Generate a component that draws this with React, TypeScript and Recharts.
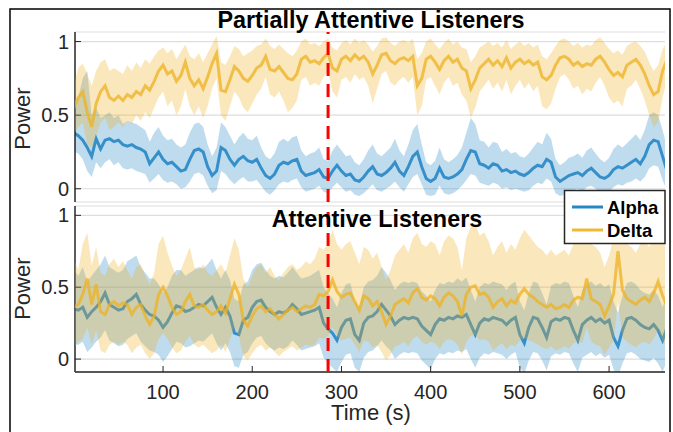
import React from 'react';
import { ComposedChart, Area, Line, XAxis, YAxis, CartesianGrid, ReferenceLine } from 'recharts';

// sampling step (seconds) of the series below, starting at t = 0
const STEP = 5;
const X_TICKS = [100, 200, 300, 400, 500, 600];
const Y_TICKS = [0, 0.5, 1];
const MARKER_TIME = 285;
const PANEL_TITLES = ['Partially Attentive Listeners', 'Attentive Listeners'];
const SERIES_NAMES = ['Alpha', 'Delta'];

// ---------- Partially attentive listeners ----------
const TOP_DELTA_MEAN = [
  0.55, 0.62, 0.66, 0.52, 0.42, 0.58, 0.66, 0.70, 0.62, 0.60,
  0.63, 0.60, 0.64, 0.62, 0.66, 0.64, 0.70, 0.67, 0.73, 0.80,
  0.84, 0.78, 0.80, 0.73, 0.77, 0.86, 0.75, 0.70, 0.74, 0.68,
  0.76, 0.85, 0.92, 0.67, 0.66, 0.74, 0.83, 0.80, 0.75, 0.73,
  0.77, 0.82, 0.84, 0.90, 0.81, 0.80, 0.83, 0.79, 0.75, 0.74,
  0.78, 0.88, 0.90, 0.86, 0.87, 0.85, 0.89, 0.92, 0.82, 0.80,
  0.88, 0.90, 0.87, 0.91, 0.88, 0.90, 0.86, 0.78, 0.84, 0.91,
  0.92, 0.87, 0.85, 0.88, 0.89, 0.87, 0.90, 0.70, 0.75, 0.88,
  0.90, 0.86, 0.81, 0.87, 0.90, 0.86, 0.88, 0.82, 0.80, 0.68,
  0.74, 0.82, 0.85, 0.88, 0.84, 0.87, 0.83, 0.89, 0.82, 0.86,
  0.88, 0.85, 0.87, 0.84, 0.86, 0.76, 0.74, 0.77, 0.84, 0.89,
  0.90, 0.88, 0.84, 0.86, 0.83, 0.85, 0.84, 0.88, 0.90, 0.86,
  0.81, 0.77, 0.79, 0.76, 0.84, 0.86, 0.88, 0.84, 0.78, 0.70,
  0.64, 0.66, 0.80, 0.88,
];
const TOP_DELTA_HI = [
  0.70, 0.82, 0.85, 0.78, 0.70, 0.80, 0.86, 0.88, 0.80, 0.82,
  0.80, 0.78, 0.84, 0.80, 0.86, 0.82, 0.88, 0.85, 0.90, 0.94,
  0.96, 0.92, 0.95, 0.88, 0.93, 0.98, 0.90, 0.88, 0.92, 0.86,
  0.92, 0.98, 1.04, 0.86, 0.84, 0.90, 0.97, 0.95, 0.90, 0.92,
  0.94, 0.97, 0.98, 1.02, 0.97, 0.95, 0.98, 0.95, 0.92, 0.90,
  0.94, 1.00, 1.02, 0.98, 0.99, 0.97, 1.00, 1.02, 0.96, 0.94,
  0.99, 1.01, 0.98, 1.02, 0.99, 1.01, 0.98, 0.93, 0.97, 1.02,
  1.03, 0.99, 0.97, 1.00, 1.01, 0.99, 1.02, 0.88, 0.92, 1.00,
  1.02, 0.98, 0.95, 0.99, 1.02, 0.98, 1.00, 0.96, 0.95, 0.86,
  0.90, 0.96, 0.98, 1.00, 0.97, 0.99, 0.96, 1.01, 0.95, 0.98,
  1.00, 0.97, 0.99, 0.96, 0.98, 0.90, 0.88, 0.92, 0.97, 1.01,
  1.02, 1.00, 0.97, 0.99, 0.96, 0.98, 0.97, 1.01, 1.03, 0.99,
  0.95, 0.92, 0.94, 0.91, 0.97, 0.99, 1.00, 0.97, 0.93, 0.86,
  0.80, 0.84, 0.95, 1.00,
];
const TOP_DELTA_LO = [
  0.38, 0.42, 0.45, 0.30, 0.28, 0.36, 0.45, 0.48, 0.40, 0.42,
  0.45, 0.42, 0.46, 0.44, 0.50, 0.46, 0.52, 0.48, 0.55, 0.62,
  0.66, 0.56, 0.60, 0.50, 0.56, 0.68, 0.56, 0.50, 0.56, 0.48,
  0.56, 0.68, 0.75, 0.50, 0.46, 0.56, 0.66, 0.62, 0.55, 0.52,
  0.58, 0.64, 0.68, 0.76, 0.64, 0.62, 0.66, 0.60, 0.52, 0.55,
  0.60, 0.74, 0.76, 0.70, 0.72, 0.70, 0.76, 0.80, 0.66, 0.62,
  0.74, 0.76, 0.72, 0.78, 0.74, 0.76, 0.70, 0.58, 0.68, 0.78,
  0.80, 0.72, 0.70, 0.74, 0.76, 0.72, 0.76, 0.50, 0.56, 0.74,
  0.76, 0.70, 0.64, 0.72, 0.76, 0.70, 0.72, 0.64, 0.60, 0.48,
  0.55, 0.66, 0.70, 0.74, 0.68, 0.72, 0.66, 0.74, 0.64, 0.70,
  0.74, 0.68, 0.72, 0.66, 0.70, 0.56, 0.54, 0.58, 0.68, 0.76,
  0.78, 0.74, 0.68, 0.70, 0.64, 0.68, 0.66, 0.72, 0.76, 0.70,
  0.62, 0.58, 0.60, 0.56, 0.68, 0.70, 0.74, 0.68, 0.60, 0.50,
  0.42, 0.45, 0.62, 0.74,
];
const TOP_ALPHA_MEAN = [
  0.38, 0.36, 0.33, 0.28, 0.22, 0.34, 0.27, 0.33, 0.34, 0.32,
  0.33, 0.30, 0.29, 0.30, 0.28, 0.27, 0.25, 0.17, 0.21, 0.25,
  0.20, 0.17, 0.18, 0.15, 0.12, 0.13, 0.20, 0.26, 0.27, 0.25,
  0.15, 0.09, 0.12, 0.28, 0.26, 0.20, 0.16, 0.20, 0.22, 0.19,
  0.18, 0.20, 0.14, 0.09, 0.07, 0.10, 0.16, 0.18, 0.17, 0.19,
  0.20, 0.12, 0.09, 0.10, 0.11, 0.13, 0.08, 0.07, 0.12, 0.16,
  0.12, 0.09, 0.10, 0.06, 0.05, 0.08, 0.12, 0.15, 0.10, 0.09,
  0.11, 0.14, 0.18, 0.12, 0.09, 0.15, 0.22, 0.25, 0.15, 0.07,
  0.05, 0.07, 0.14, 0.08, 0.07, 0.08, 0.10, 0.13, 0.20, 0.26,
  0.25, 0.17, 0.16, 0.14, 0.17, 0.16, 0.12, 0.13, 0.11, 0.12,
  0.10, 0.09, 0.11, 0.14, 0.16, 0.15, 0.20, 0.18, 0.08, 0.05,
  0.07, 0.09, 0.10, 0.11, 0.09, 0.12, 0.14, 0.11, 0.08, 0.07,
  0.09, 0.13, 0.15, 0.14, 0.16, 0.18, 0.20, 0.17, 0.22, 0.30,
  0.33, 0.32, 0.22, 0.12,
];
const TOP_ALPHA_HI = [
  0.55, 0.62, 0.75, 0.80, 0.50, 0.55, 0.48, 0.50, 0.52, 0.48,
  0.50, 0.44, 0.46, 0.45, 0.44, 0.42, 0.40, 0.32, 0.38, 0.42,
  0.36, 0.33, 0.34, 0.30, 0.28, 0.30, 0.38, 0.44, 0.45, 0.42,
  0.30, 0.22, 0.28, 0.45, 0.42, 0.36, 0.30, 0.35, 0.38, 0.34,
  0.33, 0.36, 0.28, 0.22, 0.20, 0.24, 0.32, 0.34, 0.32, 0.35,
  0.36, 0.26, 0.22, 0.24, 0.25, 0.28, 0.20, 0.19, 0.26, 0.30,
  0.26, 0.22, 0.23, 0.18, 0.16, 0.20, 0.26, 0.30, 0.24, 0.22,
  0.25, 0.28, 0.34, 0.26, 0.22, 0.30, 0.40, 0.44, 0.30, 0.18,
  0.16, 0.19, 0.28, 0.20, 0.18, 0.20, 0.23, 0.28, 0.38, 0.48,
  0.44, 0.33, 0.32, 0.28, 0.32, 0.31, 0.25, 0.27, 0.24, 0.25,
  0.22, 0.21, 0.24, 0.28, 0.32, 0.30, 0.38, 0.34, 0.20, 0.16,
  0.18, 0.21, 0.22, 0.24, 0.21, 0.26, 0.28, 0.24, 0.20, 0.18,
  0.21, 0.27, 0.30, 0.28, 0.31, 0.34, 0.37, 0.33, 0.40, 0.50,
  0.52, 0.50, 0.40, 0.28,
];
const TOP_ALPHA_LO = [
  0.25, 0.24, 0.20, 0.12, 0.08, 0.18, 0.14, 0.18, 0.20, 0.16,
  0.18, 0.14, 0.13, 0.14, 0.12, 0.11, 0.10, 0.04, 0.07, 0.10,
  0.06, 0.04, 0.05, 0.03, 0.00, 0.01, 0.05, 0.10, 0.11, 0.09,
  0.02, -0.03, -0.01, 0.12, 0.10, 0.06, 0.03, 0.06, 0.08, 0.05,
  0.05, 0.06, 0.02, -0.02, -0.04, -0.01, 0.03, 0.05, 0.04, 0.06,
  0.07, 0.01, -0.02, -0.01, 0.00, 0.02, -0.02, -0.03, 0.01, 0.04,
  0.01, -0.02, -0.01, -0.04, -0.05, -0.03, 0.00, 0.03, -0.01, -0.02,
  0.00, 0.02, 0.05, 0.01, -0.02, 0.03, 0.08, 0.10, 0.03, -0.04,
  -0.05, -0.04, 0.02, -0.03, -0.04, -0.03, -0.01, 0.02, 0.06, 0.10,
  0.09, 0.04, 0.03, 0.02, 0.04, 0.03, 0.00, 0.01, -0.01, 0.00,
  -0.01, -0.02, -0.01, 0.02, 0.04, 0.03, 0.07, 0.05, -0.03, -0.05,
  -0.04, -0.02, -0.01, 0.00, -0.02, 0.01, 0.02, 0.00, -0.03, -0.04,
  -0.02, 0.01, 0.03, 0.02, 0.04, 0.05, 0.07, 0.05, 0.08, 0.14,
  0.16, 0.15, 0.06, -0.02,
];

// ---------- Attentive listeners ----------
const BOT_ALPHA_MEAN = [
  0.35, 0.34, 0.36, 0.29, 0.33, 0.36, 0.40, 0.46, 0.38, 0.36,
  0.34, 0.35, 0.40, 0.42, 0.45, 0.38, 0.34, 0.31, 0.30, 0.27,
  0.22, 0.26, 0.32, 0.37, 0.36, 0.33, 0.34, 0.36, 0.38, 0.37,
  0.40, 0.43, 0.36, 0.31, 0.36, 0.30, 0.18, 0.17, 0.27, 0.29,
  0.36, 0.40, 0.41, 0.36, 0.33, 0.31, 0.33, 0.32, 0.34, 0.38,
  0.35, 0.31, 0.32, 0.33, 0.34, 0.36, 0.25, 0.21, 0.18, 0.13,
  0.22, 0.27, 0.28, 0.17, 0.13, 0.25, 0.29, 0.30, 0.33, 0.38,
  0.34, 0.30, 0.24, 0.27, 0.29, 0.28, 0.29, 0.28, 0.23, 0.20,
  0.17, 0.24, 0.28, 0.27, 0.29, 0.28, 0.30, 0.29, 0.31, 0.24,
  0.17, 0.25, 0.28, 0.27, 0.29, 0.28, 0.27, 0.24, 0.27, 0.29,
  0.17, 0.11, 0.22, 0.29, 0.28, 0.22, 0.15, 0.26, 0.28, 0.27,
  0.29, 0.28, 0.20, 0.13, 0.24, 0.27, 0.29, 0.26, 0.28, 0.25,
  0.27, 0.15, 0.09, 0.20, 0.28, 0.29, 0.27, 0.24, 0.22, 0.21,
  0.24, 0.20, 0.13, 0.22,
];
const BOT_ALPHA_HI = [
  0.62, 0.58, 0.64, 0.54, 0.58, 0.62, 0.66, 0.72, 0.64, 0.62,
  0.60, 0.62, 0.68, 0.70, 0.72, 0.64, 0.60, 0.56, 0.56, 0.52,
  0.46, 0.50, 0.58, 0.62, 0.62, 0.58, 0.60, 0.62, 0.64, 0.63,
  0.66, 0.70, 0.62, 0.56, 0.62, 0.55, 0.42, 0.40, 0.52, 0.54,
  0.62, 0.66, 0.67, 0.62, 0.58, 0.56, 0.58, 0.57, 0.60, 0.64,
  0.60, 0.56, 0.57, 0.58, 0.60, 0.62, 0.50, 0.46, 0.42, 0.36,
  0.46, 0.52, 0.53, 0.40, 0.36, 0.50, 0.54, 0.55, 0.58, 0.64,
  0.60, 0.55, 0.48, 0.52, 0.54, 0.53, 0.54, 0.53, 0.47, 0.44,
  0.40, 0.48, 0.53, 0.52, 0.54, 0.53, 0.56, 0.54, 0.57, 0.48,
  0.40, 0.50, 0.53, 0.52, 0.54, 0.53, 0.52, 0.48, 0.52, 0.54,
  0.40, 0.34, 0.46, 0.54, 0.53, 0.46, 0.38, 0.51, 0.53, 0.52,
  0.54, 0.53, 0.44, 0.36, 0.48, 0.52, 0.54, 0.51, 0.53, 0.50,
  0.52, 0.40, 0.32, 0.44, 0.53, 0.54, 0.52, 0.48, 0.46, 0.45,
  0.48, 0.44, 0.36, 0.46,
];
const BOT_ALPHA_LO = [
  0.10, 0.10, 0.12, 0.05, 0.08, 0.12, 0.15, 0.20, 0.13, 0.11,
  0.09, 0.10, 0.14, 0.16, 0.18, 0.12, 0.09, 0.06, 0.05, 0.03,
  -0.02, 0.02, 0.07, 0.12, 0.11, 0.08, 0.09, 0.11, 0.13, 0.12,
  0.15, 0.18, 0.11, 0.06, 0.11, 0.05, -0.05, -0.06, 0.03, 0.05,
  0.11, 0.15, 0.16, 0.11, 0.08, 0.06, 0.08, 0.07, 0.09, 0.13,
  0.10, 0.06, 0.07, 0.08, 0.09, 0.11, 0.01, -0.03, -0.06, -0.09,
  -0.02, 0.03, 0.04, -0.06, -0.09, 0.01, 0.05, 0.06, 0.09, 0.13,
  0.09, 0.06, 0.00, 0.03, 0.05, 0.04, 0.05, 0.04, -0.01, -0.04,
  -0.07, 0.00, 0.04, 0.03, 0.05, 0.04, 0.06, 0.05, 0.07, 0.00,
  -0.06, 0.01, 0.04, 0.03, 0.05, 0.04, 0.03, 0.00, 0.03, 0.05,
  -0.06, -0.10, -0.01, 0.05, 0.04, -0.01, -0.08, 0.02, 0.04, 0.03,
  0.05, 0.04, -0.03, -0.09, 0.01, 0.03, 0.05, 0.02, 0.04, 0.01,
  0.03, -0.07, -0.12, -0.03, 0.04, 0.05, 0.03, 0.00, -0.01, -0.02,
  0.01, -0.03, -0.09, -0.01,
];
const BOT_DELTA_MEAN = [
  0.36, 0.38, 0.45, 0.56, 0.38, 0.52, 0.33, 0.31, 0.38, 0.40,
  0.37, 0.39, 0.38, 0.31, 0.36, 0.38, 0.30, 0.24, 0.30, 0.45,
  0.50, 0.44, 0.36, 0.31, 0.33, 0.40, 0.45, 0.37, 0.36, 0.38,
  0.34, 0.31, 0.33, 0.37, 0.32, 0.42, 0.52, 0.45, 0.27, 0.23,
  0.30, 0.35, 0.37, 0.33, 0.35, 0.31, 0.28, 0.31, 0.34, 0.36,
  0.33, 0.35, 0.37, 0.36, 0.38, 0.45, 0.44, 0.47, 0.55, 0.47,
  0.43, 0.45, 0.46, 0.40, 0.34, 0.44, 0.42, 0.37, 0.40, 0.33,
  0.24, 0.30, 0.38, 0.40, 0.42, 0.39, 0.46, 0.49, 0.43, 0.41,
  0.44, 0.42, 0.37, 0.43, 0.46, 0.44, 0.40, 0.30, 0.45, 0.50,
  0.51, 0.45, 0.46, 0.43, 0.36, 0.40, 0.42, 0.37, 0.41, 0.39,
  0.45, 0.49, 0.45, 0.43, 0.40, 0.38, 0.36, 0.38, 0.35, 0.36,
  0.38, 0.36, 0.41, 0.43, 0.42, 0.56, 0.42, 0.40, 0.38, 0.30,
  0.37, 0.45, 0.75, 0.48, 0.42, 0.40, 0.38, 0.41, 0.43, 0.40,
  0.46, 0.54, 0.44, 0.37,
];
const BOT_DELTA_HI = [
  0.70, 0.62, 0.80, 0.88, 0.65, 0.78, 0.60, 0.58, 0.66, 0.70,
  0.64, 0.68, 0.62, 0.56, 0.64, 0.66, 0.58, 0.52, 0.60, 0.80,
  0.86, 0.74, 0.65, 0.58, 0.62, 0.70, 0.78, 0.64, 0.62, 0.66,
  0.60, 0.58, 0.62, 0.66, 0.60, 0.72, 0.84, 0.76, 0.56, 0.50,
  0.58, 0.64, 0.66, 0.60, 0.64, 0.58, 0.55, 0.60, 0.64, 0.66,
  0.62, 0.64, 0.68, 0.66, 0.70, 0.78, 0.76, 0.80, 0.90, 0.80,
  0.76, 0.80, 0.82, 0.74, 0.66, 0.78, 0.76, 0.70, 0.74, 0.64,
  0.55, 0.62, 0.72, 0.76, 0.80, 0.74, 0.84, 0.88, 0.80, 0.78,
  0.82, 0.80, 0.72, 0.82, 0.86, 0.84, 0.78, 0.62, 0.84, 0.92,
  0.94, 0.86, 0.88, 0.82, 0.72, 0.78, 0.82, 0.74, 0.80, 0.76,
  0.84, 0.90, 0.86, 0.82, 0.78, 0.76, 0.72, 0.76, 0.72, 0.74,
  0.76, 0.72, 0.80, 0.82, 0.80, 0.92, 0.80, 0.78, 0.74, 0.64,
  0.72, 0.84, 1.00, 0.86, 0.80, 0.78, 0.74, 0.80, 0.82, 0.78,
  0.86, 0.92, 0.84, 0.74,
];
const BOT_DELTA_LO = [
  0.08, 0.12, 0.14, 0.22, 0.10, 0.20, 0.06, 0.04, 0.10, 0.12,
  0.10, 0.12, 0.10, 0.04, 0.08, 0.10, 0.04, 0.00, 0.04, 0.14,
  0.18, 0.14, 0.08, 0.04, 0.06, 0.12, 0.16, 0.10, 0.08, 0.10,
  0.07, 0.04, 0.06, 0.10, 0.05, 0.14, 0.22, 0.16, 0.02, -0.01,
  0.04, 0.08, 0.10, 0.06, 0.08, 0.05, 0.02, 0.05, 0.07, 0.09,
  0.06, 0.08, 0.10, 0.09, 0.10, 0.15, 0.14, 0.16, 0.22, 0.16,
  0.13, 0.14, 0.15, 0.10, 0.05, 0.13, 0.12, 0.08, 0.10, 0.05,
  -0.01, 0.03, 0.09, 0.10, 0.12, 0.09, 0.14, 0.16, 0.12, 0.10,
  0.12, 0.11, 0.07, 0.12, 0.14, 0.13, 0.10, 0.03, 0.12, 0.16,
  0.17, 0.13, 0.14, 0.12, 0.06, 0.09, 0.11, 0.07, 0.10, 0.09,
  0.13, 0.15, 0.13, 0.12, 0.10, 0.08, 0.07, 0.09, 0.06, 0.07,
  0.09, 0.07, 0.11, 0.12, 0.11, 0.22, 0.12, 0.10, 0.09, 0.03,
  0.08, 0.13, 0.40, 0.15, 0.12, 0.10, 0.08, 0.11, 0.12, 0.10,
  0.14, 0.20, 0.13, 0.08,
];

const buildRows = (aM: number[], aLo: number[], aHi: number[], dM: number[], dLo: number[], dHi: number[]) =>
  aM.map((v, i) => ({
    t: i * STEP,
    aMean: v,
    aBand: [aLo[i], aHi[i]],
    dMean: dM[i],
    dBand: [dLo[i], dHi[i]],
  }));

const TOP_ROWS = buildRows(TOP_ALPHA_MEAN, TOP_ALPHA_LO, TOP_ALPHA_HI, TOP_DELTA_MEAN, TOP_DELTA_LO, TOP_DELTA_HI);
const BOT_ROWS = buildRows(BOT_ALPHA_MEAN, BOT_ALPHA_LO, BOT_ALPHA_HI, BOT_DELTA_MEAN, BOT_DELTA_LO, BOT_DELTA_HI);

const FONT = '"Liberation Sans", Arial, Helvetica, sans-serif';
const BLUE = '#0072BD';
const YELLOW = '#EDB120';
const AXIS = '#262626';
const X_DOMAIN: [number, number] = [1.3, 662.7];
const Y_DOMAIN: [number, number] = [-0.09, 1.065];

type LayerProps = {
  rows: any[];
  height: number;
  marginTop: number;
  marginBottom: number;
  xAxisHeight: number;
  showXLabels: boolean;
  base: boolean; // base layer: grid, axes and Alpha; overlay: Delta and marker
};

function Layer({ rows, height, marginTop, marginBottom, xAxisHeight, showXLabels, base }: LayerProps) {
  const axisLine = base ? { stroke: AXIS, strokeWidth: 1.5 } : false;
  const tickLine = base ? { stroke: AXIS, strokeWidth: 1 } : false;
  return (
    <div style={{ position: 'absolute', left: 0, top: 0, width: 673, height }}>
      <ComposedChart width={673} height={height} data={rows} margin={{ top: marginTop, right: 8, bottom: marginBottom, left: 15 }}>
        {base && <CartesianGrid vertical={false} stroke="#dedede" strokeWidth={1.2} />}
        <XAxis
          dataKey="t"
          type="number"
          domain={X_DOMAIN}
          allowDataOverflow
          ticks={X_TICKS}
          height={xAxisHeight}
          tickSize={-6}
          tickMargin={18.5}
          axisLine={axisLine}
          tickLine={tickLine}
          tick={base && showXLabels ? { fontSize: 20, fill: AXIS, fontFamily: FONT } : false}
        />
        <XAxis
          xAxisId="top"
          orientation="top"
          type="number"
          domain={X_DOMAIN}
          allowDataOverflow
          ticks={X_TICKS}
          height={0}
          tickSize={-6}
          axisLine={axisLine}
          tickLine={tickLine}
          tick={false}
        />
        <YAxis
          type="number"
          domain={Y_DOMAIN}
          allowDataOverflow
          ticks={Y_TICKS}
          width={60}
          tickSize={-6}
          tickMargin={12}
          axisLine={axisLine}
          tickLine={tickLine}
          tick={base ? { fontSize: 20, fill: AXIS, fontFamily: FONT } : false}
        />
        <YAxis
          yAxisId="r"
          orientation="right"
          type="number"
          domain={Y_DOMAIN}
          allowDataOverflow
          ticks={Y_TICKS}
          width={0}
          tickSize={-6}
          axisLine={axisLine}
          tickLine={tickLine}
          tick={false}
        />
        {base && (
          <Area dataKey="aBand" type="linear" stroke="none" fill={BLUE} fillOpacity={0.25} isAnimationActive={false} />
        )}
        {base && (
          <Line dataKey="aMean" type="linear" stroke={BLUE} strokeOpacity={0.72} strokeWidth={3} dot={false} isAnimationActive={false} />
        )}
        {!base && (
          <Area dataKey="dBand" type="linear" stroke="none" fill={YELLOW} fillOpacity={0.3} isAnimationActive={false} />
        )}
        {!base && (
          <Line dataKey="dMean" type="linear" stroke={YELLOW} strokeOpacity={0.75} strokeWidth={3} dot={false} isAnimationActive={false} />
        )}
        {!base && <ReferenceLine x={MARKER_TIME} stroke="#FF0000" strokeWidth={3} strokeDasharray="13 8" />}
      </ComposedChart>
    </div>
  );
}

function Panel(props: Omit<LayerProps, 'base'>) {
  return (
    <>
      <Layer {...props} base={true} />
      <Layer {...props} base={false} />
    </>
  );
}

export default function App() {
  return (
    <div style={{ position: 'absolute', left: 0, top: 0, width: 673, height: 432, background: '#fff', fontFamily: FONT, overflow: 'hidden' }}>
      <Panel rows={TOP_ROWS} height={210} marginTop={32} marginBottom={8} xAxisHeight={0} showXLabels={false} />
      <Panel rows={BOT_ROWS} height={432} marginTop={206} marginBottom={0} xAxisHeight={60} showXLabels={true} />
      <svg width={673} height={432} style={{ position: 'absolute', left: 0, top: 0, pointerEvents: 'none' }}>
        <rect x={10} y={9} width={660} height={440} fill="none" stroke="#000" strokeWidth={1.5} />
        <text x={371} y={28} textAnchor="middle" fontFamily={FONT} fontWeight="bold" fontSize={23.4} fill="#000">
          {PANEL_TITLES[0]}
        </text>
        <text x={377} y={227} textAnchor="middle" fontFamily={FONT} fontWeight="bold" fontSize={23.4} fill="#000">
          {PANEL_TITLES[1]}
        </text>
        <text x={30} y={118.5} textAnchor="middle" fontFamily={FONT} fontSize={22} fill={AXIS} transform="rotate(-90 30 118.5)">
          Power
        </text>
        <text x={30} y={288.7} textAnchor="middle" fontFamily={FONT} fontSize={22} fill={AXIS} transform="rotate(-90 30 288.7)">
          Power
        </text>
        <text x={371} y={420} textAnchor="middle" fontFamily={FONT} fontSize={22} fill={AXIS}>
          Time (s)
        </text>
        <rect x={564.5} y={190.5} width={100.5} height={53} fill="#fff" stroke={AXIS} strokeWidth={1.5} />
        <line x1={572} y1={207} x2={603} y2={207} stroke={BLUE} strokeWidth={3} strokeOpacity={0.85} />
        <text x={607} y={213.5} fontFamily={FONT} fontWeight="bold" fontSize={18.5} fill="#000">
          {SERIES_NAMES[0]}
        </text>
        <line x1={572} y1={230} x2={603} y2={230} stroke={YELLOW} strokeWidth={3} strokeOpacity={0.9} />
        <text x={607} y={236.5} fontFamily={FONT} fontWeight="bold" fontSize={18.5} fill="#000">
          {SERIES_NAMES[1]}
        </text>
      </svg>
    </div>
  );
}
